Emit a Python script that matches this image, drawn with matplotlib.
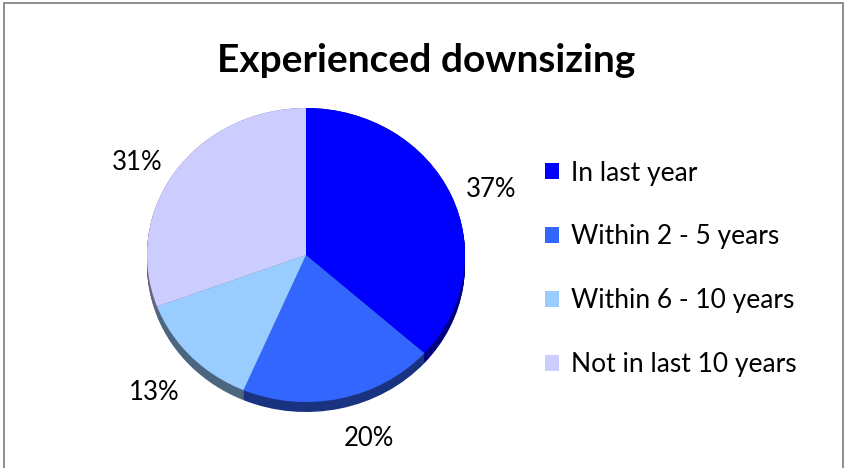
import matplotlib
matplotlib.use("Agg")
import matplotlib.pyplot as plt
from matplotlib.patches import Rectangle
import numpy as np

# Data
title = "Experienced downsizing"
categories = ["In last year", "Within 2 - 5 years", "Within 6 - 10 years", "Not in last 10 years"]
shares = [37, 20, 13, 31]
top_colors = ["#0000FF", "#3366FF", "#99CCFF", "#CCCCFF"]

W, H = 844, 468
fig = plt.figure(figsize=(W / 100, H / 100), dpi=100)
fig.patch.set_facecolor("white")
plt.rcParams["font.family"] = ["Lato", "DejaVu Sans"]

# Pie geometry (pixels): centre, horizontal / vertical radius, rim depth
cx, cy = 306, 255
rx, ry = 159, 147
depth_px = 10

left_px = cx - rx
bottom_px = 40
top_px = 370
ax = fig.add_axes([left_px / W, bottom_px / H, 2 * rx / W, (top_px - bottom_px) / H])
cy_b = H - cy
ylo = -(cy_b - bottom_px) / ry
yhi = (top_px - cy_b) / ry
depth = depth_px / ry

side_colors = [tuple(0.5 * c for c in matplotlib.colors.to_rgb(col)) for col in top_colors]

# Rim: stacked copies of the pie shifted downward
for off in np.linspace(depth, 0.0, 12):
    ax.pie(shares, colors=side_colors, startangle=90, counterclock=False,
           center=(0, -off), wedgeprops=dict(linewidth=0, antialiased=True))

wedges, _, pct_texts = ax.pie(
    shares, colors=top_colors, startangle=90, counterclock=False,
    autopct="%1.0f%%", pctdistance=1.1,
    wedgeprops=dict(linewidth=0, antialiased=True),
    textprops=dict(fontsize=18.5, color="black"))

# Percentage labels sit just outside the rim, aligned away from the pie
for t in pct_texts:
    x, y = t.get_position()
    t.set_ha("left" if x >= 0 else "right")
    if y < 0:
        t.set_va("top")
        t.set_position((x, y - depth * 1.3))
    else:
        t.set_va("center")

ax.set_aspect("auto")
ax.set_xlim(-1, 1)
ax.set_ylim(ylo, yhi)
ax.axis("off")
for p in ax.patches:
    p.set_clip_on(False)

fig.text(0.505, 1 - 60 / H, title, ha="center", va="center",
         fontsize=28, fontweight="bold")

fig.legend(wedges, categories, loc="upper left",
           bbox_to_anchor=(534 / W, 1 - 150 / H),
           frameon=False, fontsize=19, handlelength=0.55, handleheight=0.55,
           handletextpad=0.45, labelspacing=1.47, borderaxespad=0)

# Chart-area border
fig.add_artist(Rectangle((3.5 / W, -0.01), (843 - 3.5) / W, 1.01 - 2.5 / H,
                         transform=fig.transFigure, fill=False,
                         edgecolor="#868686", linewidth=1.3))

fig.savefig("out.png", dpi=100, facecolor="white")
